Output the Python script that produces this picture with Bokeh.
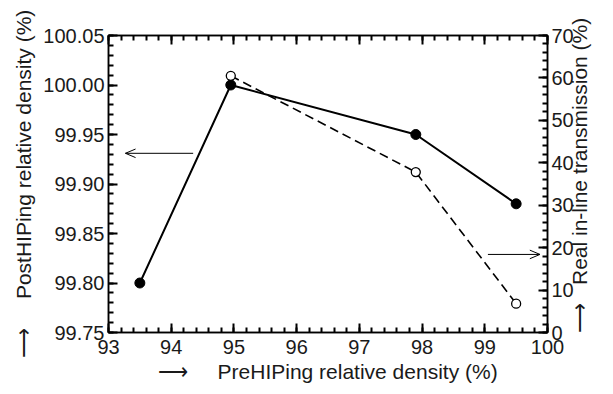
import math
import numpy as np
from bokeh.plotting import figure
from bokeh.models import (Range1d, LinearAxis, FixedTicker,
                          PrintfTickFormatter, CustomJSTickFormatter)
from bokeh.embed import file_html
from bokeh.resources import INLINE

# ---- data ----
pre_density = [93.5, 94.95, 97.9, 99.5]          # PreHIPing relative density (%)
post_density = [99.80, 100.00, 99.95, 99.88]     # PostHIPing relative density (%)
trans_pre = [94.95, 97.9, 99.5]
transmission = [60.5, 37.8, 6.8]                 # Real in-line transmission (%)

x_ticks = [93, 94, 95, 96, 97, 98, 99, 100]
left_ticks = [99.75, 99.80, 99.85, 99.90, 99.95, 100.00, 100.05]
right_ticks = [0, 10, 20, 30, 40, 50, 60, 70]

X_LO, X_HI = 93, 100
L_LO, L_HI = 99.75, 100.05
R_LO, R_HI = 0, 70

# axis-indicator arrows (data units): left one on the left axis, right one on the right axis
LEFT_ARROW = dict(x_from=94.35, x_to=93.27, y=99.931)
RIGHT_ARROW = dict(x_from=99.05, x_to=99.88, y=18.4)

NB = "\u00a0"
x_label = "\u27f6" + NB * 5 + "PreHIPing relative density (%)"
left_label = "\u27f6" + NB * 5 + "PostHIPing relative density (%)"
right_label = "\u27f6" + NB * 3 + "Real in-line transmission (%)"

FONT = "Liberation Sans"
TICK_FS = "20px"
LAB_FS = "21px"
INK = "#1a1a1a"
W, H = 605, 390

p = figure(width=W, height=H, output_backend="svg", toolbar_location=None,
           x_range=Range1d(X_LO, X_HI), y_range=Range1d(L_LO, L_HI),
           min_border_left=108, min_border_right=55, min_border_top=35,
           min_border_bottom=58)
p.extra_y_ranges = {"right": Range1d(R_LO, R_HI)}
p.grid.visible = False
p.outline_line_color = "black"
p.outline_line_width = 1.5


def style(ax):
    ax.axis_line_color = "black"
    ax.axis_line_width = 1.5
    ax.major_tick_in = 9
    ax.major_tick_out = 0
    ax.minor_tick_in = 5
    ax.minor_tick_out = 0
    ax.major_tick_line_width = 2
    ax.minor_tick_line_width = 2
    ax.major_tick_line_color = "black"
    ax.minor_tick_line_color = "black"
    ax.major_label_text_font = FONT
    ax.major_label_text_font_size = TICK_FS
    ax.major_label_text_color = INK
    ax.major_label_standoff = 4
    ax.axis_label_text_font = FONT
    ax.axis_label_text_font_size = LAB_FS
    ax.axis_label_text_font_style = "normal"
    ax.axis_label_text_color = INK


x_minor = list(np.round(np.arange(X_LO, X_HI + 0.001, 0.2), 2))
l_minor = list(np.round(np.arange(L_LO, L_HI + 0.0001, 0.01), 3))
r_minor = list(range(R_LO, R_HI + 1, 2))

# bottom x axis
xa = p.xaxis[0]
xa.ticker = FixedTicker(ticks=x_ticks, minor_ticks=x_minor)
style(xa)
xa.major_label_standoff = 7
xa.axis_label = x_label
xa.axis_label_standoff = 3

# top mirror axis (ticks only)
top = LinearAxis(ticker=FixedTicker(ticks=x_ticks, minor_ticks=x_minor),
                 formatter=CustomJSTickFormatter(code="return ''"))
style(top)
p.add_layout(top, "above")

# left y axis
ya = p.yaxis[0]
ya.ticker = FixedTicker(ticks=left_ticks, minor_ticks=l_minor)
ya.formatter = PrintfTickFormatter(format="%.2f")
style(ya)
ya.axis_label = left_label
ya.axis_label_standoff = 5

# right y axis
ra = LinearAxis(y_range_name="right",
                ticker=FixedTicker(ticks=right_ticks, minor_ticks=r_minor))
style(ra)
ra.axis_label = right_label
ra.axis_label_standoff = 3
ra.axis_label_orientation = math.pi / 2
ra.axis_label_align = "start"
p.add_layout(ra, "right")

# series
p.line(pre_density, post_density, line_color="black", line_width=2)
p.scatter(pre_density, post_density, size=10, fill_color="black", line_color="black")
p.line(trans_pre, transmission, y_range_name="right", line_color="black",
       line_width=1.6, line_dash="9 5")
p.scatter(trans_pre, transmission, y_range_name="right", size=9,
          fill_color="white", line_color="black", line_width=1.3)

# axis-indicator arrows drawn with glyphs (shaft + open "V" head)
HEAD = 0.4
AK = dict(line_color="black", line_width=1)
p.segment(x0=[LEFT_ARROW["x_from"]], y0=[LEFT_ARROW["y"]],
          x1=[LEFT_ARROW["x_to"]], y1=[LEFT_ARROW["y"]], **AK)
p.ray(x=[LEFT_ARROW["x_to"]] * 2, y=[LEFT_ARROW["y"]] * 2, length=11,
      length_units="screen", angle=[HEAD, -HEAD], **AK)
p.segment(x0=[RIGHT_ARROW["x_from"]], y0=[RIGHT_ARROW["y"]],
          x1=[RIGHT_ARROW["x_to"]], y1=[RIGHT_ARROW["y"]],
          y_range_name="right", **AK)
p.ray(x=[RIGHT_ARROW["x_to"]] * 2, y=[RIGHT_ARROW["y"]] * 2, length=11,
      length_units="screen", angle=[math.pi + HEAD, math.pi - HEAD],
      y_range_name="right", **AK)

open("out.html", "w").write(file_html(p, INLINE))
